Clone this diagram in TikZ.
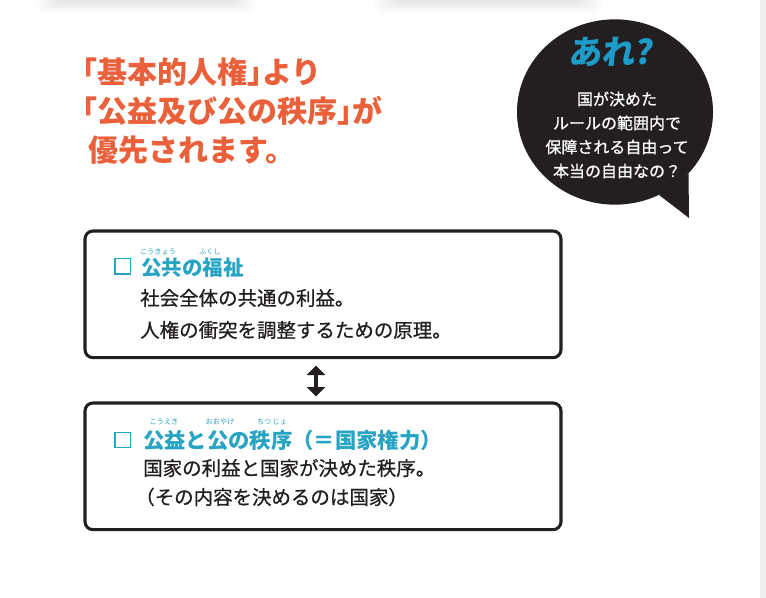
\documentclass[tikz,border=0pt]{standalone}
\usepackage{fontspec}
\setmainfont{Noto Sans CJK JP}
\newfontfamily\bodyfont[FakeBold=0.7]{Noto Sans CJK JP}
\usetikzlibrary{arrows.meta,positioning,shapes.geometric}
\definecolor{titleorange}{HTML}{E9603A}
\definecolor{keycyan}{HTML}{27A4C3}
\definecolor{arecyan}{HTML}{1D9CC9}
\definecolor{inkblack}{HTML}{231F20}
\newcommand{\halfkern}{\kern-0.5em}
\tikzset{
  panel/.style={draw=inkblack, line width=2.3pt, rounded corners=6pt, anchor=north west,
    minimum width=357pt, minimum height=95pt, inner sep=0pt, outer sep=0pt},
  headline/.style={anchor=west, inner sep=0pt, text=titleorange, font=\bfseries\fontsize{22.5pt}{26pt}\selectfont},
  keyword/.style={anchor=west, inner sep=0pt, text=keycyan, font=\bfseries\fontsize{15.4pt}{18pt}\selectfont},
  bodyline/.style={anchor=west, inner sep=0pt, text=inkblack, font=\bodyfont\fontsize{14.6pt}{17pt}\selectfont},
  ruby/.style={inner sep=0pt, text=keycyan, font=\fontsize{5.4pt}{6pt}\selectfont},
  checkbox/.style={draw=keycyan, line width=1pt, minimum size=11.5pt, inner sep=0pt},
  dblarrow/.style={{Triangle[width=13.5pt,length=7pt]}-{Triangle[width=13.5pt,length=7pt]}, line width=2.4pt, draw=inkblack}
}
\begin{document}
\begin{tikzpicture}[x=0.75pt,y=-0.75pt]
  % Page and margins
  \fill[white] (0,0) rectangle (766,598);
  \useasboundingbox (0,0) rectangle (766,598);
  \fill[black!6] (760,0) rectangle (766,598);
  % Soft shadows of the boxes above
  \foreach \i in {0,...,7}{
    \fill[black, opacity=0.01, rounded corners=6pt] (36+\i*3,-6) rectangle (256-\i*3,13-\i*1.5);
    \fill[black, opacity=0.01, rounded corners=6pt] (374+\i*3,-6) rectangle (602-\i*3,13-\i*1.5);
  }
  % Headline
  \node[headline] (head1) at (82,72) {\halfkern「基本的人権」\halfkern より};
  \node[headline] (head2) at (82,111) {\halfkern「公益及び公の秩序」\halfkern が};
  \node[headline] (head3) at (88,150) {優先されます。};
  % Speech bubble
  \node[ellipse, fill=inkblack, minimum width=147pt, minimum height=139pt, inner sep=0pt] (bubble) at (615,112) {};
  \fill[inkblack] (bubble.-62) -- (689,218) -- (bubble.-40) -- cycle;
  \node[text=arecyan, font=\bfseries\fontsize{25pt}{27pt}\selectfont, xslant=0.12, inner sep=0pt] (are) at (612,52) {あれ?};
  \node[text=white, align=center, font=\bodyfont\fontsize{12pt}{18pt}\selectfont, inner sep=0pt] (question) at (617,135)
    {国が決めた\\ルールの範囲内で\\保障される自由って\\本当の自由なの？};
  % Public welfare
  \node[panel] (box1) at (85,231) {};
  \node[checkbox] (sq1) at (122.5,266.5) {};
  \node[keyword] (key1) at (141,268) {公共の福祉};
  \node[ruby] (rkokyo) at (158,252) {こうきょう};
  \node[ruby] (rfukushi) at (210,252) {ふくし};
  \node[bodyline] (body1a) at (140,298) {社会全体の共通の利益。};
  \node[bodyline] (body1b) at (140,330) {人権の衝突を調整するための原理。};
  % Public interest and order
  \node[panel] (box2) at (85,403) {};
  \node[checkbox] (sq2) at (122.5,440) {};
  \node[keyword, font=\bfseries\fontsize{16pt}{18pt}\selectfont] (key2) at (143,440) {公益と公の秩序（＝国家権力）};
  \node[ruby] (rkoeki) at (164,422) {こうえき};
  \node[ruby] (rooyake) at (220,422) {おおやけ};
  \node[ruby] (rchitsujo) at (272,422) {ちつ\,じょ};
  \node[bodyline] (body2a) at (143,468) {国家の利益と国家が決めた秩序。};
  \node[bodyline] (body2b) at (135,497) {（その内容を決めるのは国家）};
  % Balance between the two
  \draw[dblarrow, shorten <=6pt, shorten >=5pt] ([xshift=-5.25pt]box1.south) -- ([xshift=-5.25pt]box2.north);
\end{tikzpicture}
\end{document}
